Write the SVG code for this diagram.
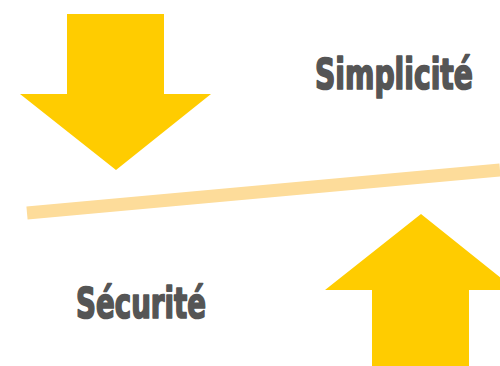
<svg xmlns="http://www.w3.org/2000/svg" width="500" height="366" viewBox="0 0 500 366">
<style>
.arrow{fill:#FFCC00}
.lbl{font-family:"DejaVu Sans Condensed","Liberation Sans",sans-serif;font-weight:bold;font-size:34px;fill:#555555;stroke:#555555;stroke-width:1.4px;stroke-linejoin:round}
</style>
<rect width="500" height="366" fill="#ffffff"/>
<g id="arrow-down"><polygon class="arrow" points="67,14 164,14 164,94 211,94 116,170 20,94 67,94"/></g>
<g id="arrow-up"><polygon class="arrow" points="421,214 516,290 469,290 469,370 372,370 372,290 325,290"/></g>
<g id="connectors"><line x1="27" y1="213" x2="500" y2="170" stroke="#FDDC9A" stroke-width="13"/></g>
<g id="simplicite"><text class="lbl" transform="translate(315,89) scale(1,1.235)" x="0" y="0" textLength="158" lengthAdjust="spacingAndGlyphs">Simplicité</text></g>
<g id="securite"><text class="lbl" transform="translate(76,318) scale(1,1.235)" x="0" y="0" textLength="130" lengthAdjust="spacingAndGlyphs">Sécurité</text></g>
</svg>
